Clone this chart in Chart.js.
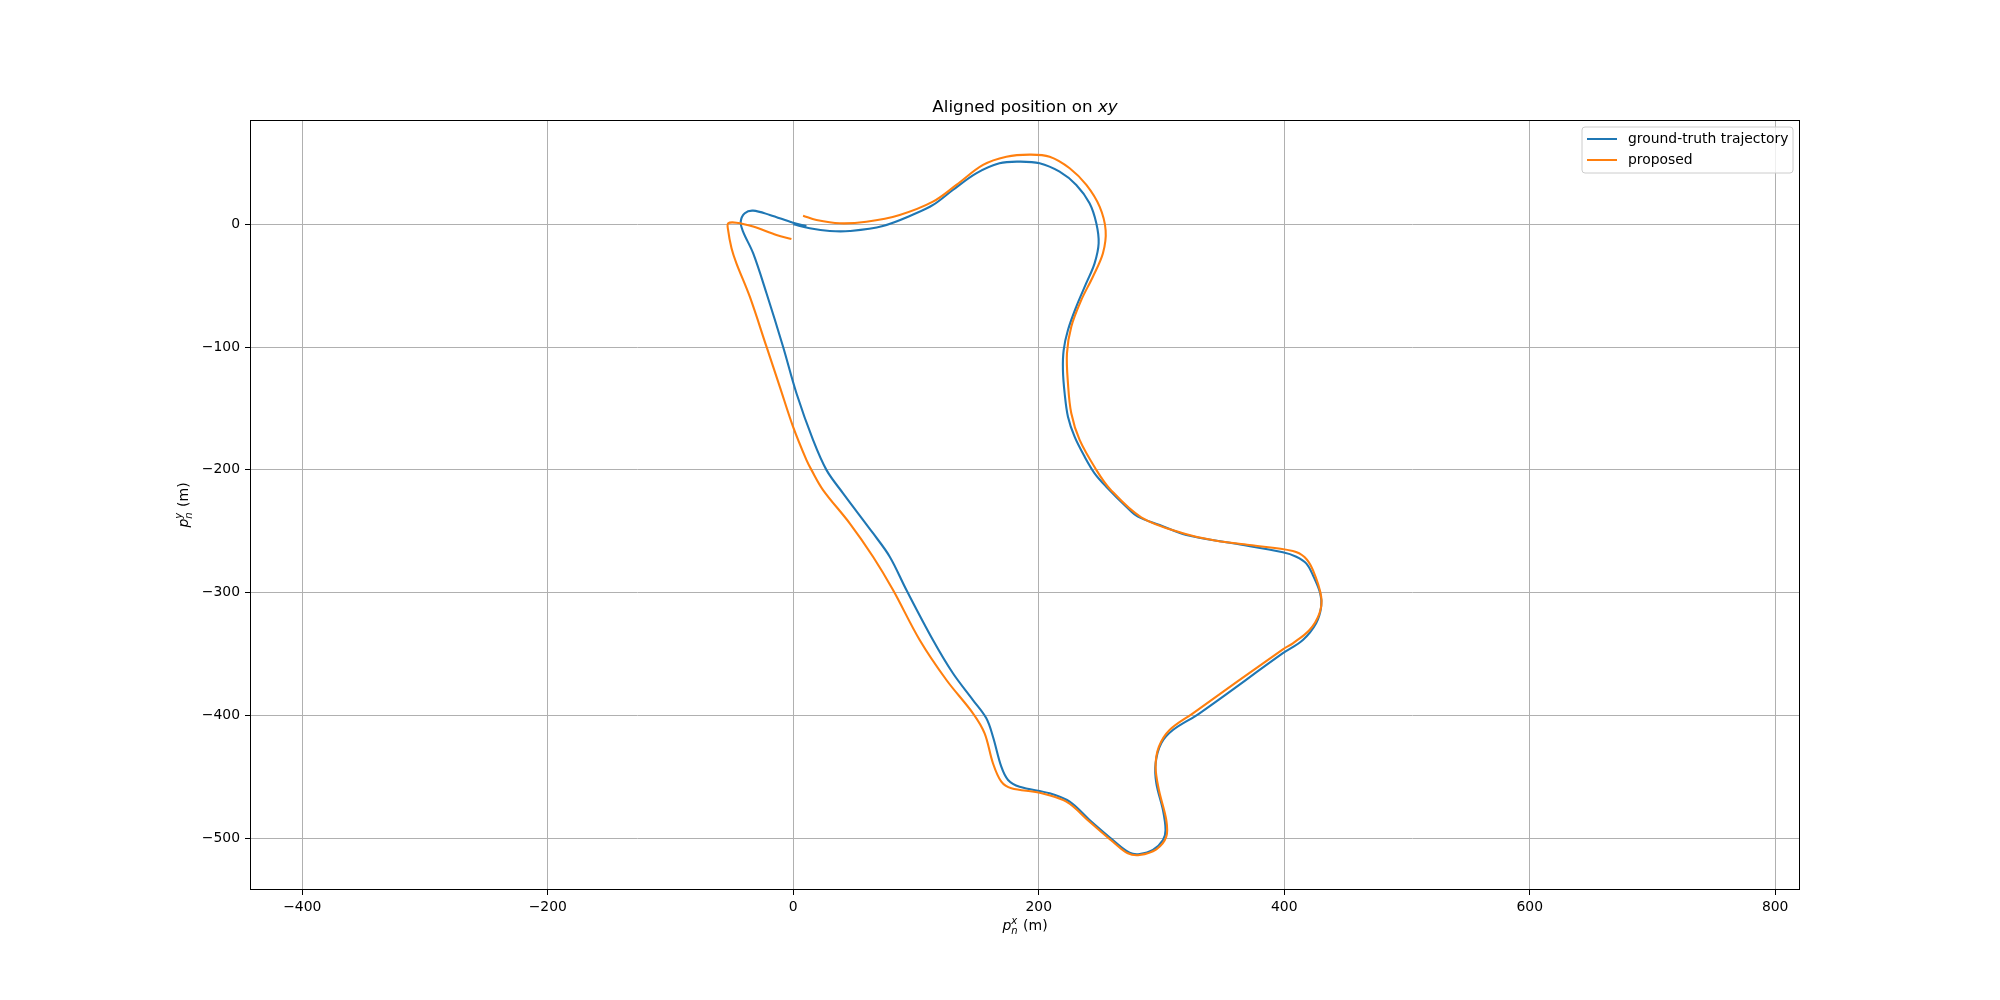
<!DOCTYPE html>
<html>
<head>
<meta charset="utf-8">
<script src="https://cdn.jsdelivr.net/npm/chart.js@4.4.1/dist/chart.umd.min.js"></script>
<style>
  html, body { margin: 0; padding: 0; background: #ffffff; }
  #wrap { width: 2000px; height: 1000px; position: relative; }
</style>
</head>
<body>
<div id="wrap"><canvas id="c"></canvas></div>
<script>
// ---- data ----
const titleMain = "Aligned position on ";
const titleItalic = "xy";
const seriesLabels = ["ground-truth trajectory", "proposed"];
const seriesColors = ["#1f77b4", "#ff7f0e"];
const axisSup = ["x", "y"];

const gtX = [0, 13.4, 29.7, 46, 73, 100, 113.9, 130, 149, 168,
  184, 200.7, 217, 230.6, 241.4, 246.9, 248.8, 245.5, 238.7, 230.6,
  223.8, 220.3, 219.7, 221.1, 223.8, 229.2, 237.4, 245.5, 255, 271.3,
  280.8, 298.5, 320.2, 358.2, 398.9, 409.8, 417.9, 423.3, 429.3, 430.1,
  426, 415.2, 398.9, 331, 309.3, 299.8, 295.2, 295.8, 301.2, 303.3,
  301.2, 293, 282.2, 274, 260.4, 241.4, 225.2, 208.9, 184.4, 175,
  169.5, 162.7, 157.3, 146.4, 130.1, 113.8, 92.2, 78.6, 65, 40.6,
  27, 16.1, 2.6, -8.3, -21.8, -32.7, -40.9, -42.8, -39.5,
  -32.7, -19.1, -0.2, 10.7];
const gtY = [0, -3.3, -5.5, -5.5, -1.4, 8.9, 15.7, 27.9, 41.5, 49.7,
  51, 49.7, 42.8, 32, 17.1, 0.8, -15.5, -31.8, -48, -67.1,
  -86.1, -102.4, -118.6, -137.6, -156.7, -173, -189.3, -202.8, -213.7, -230,
  -238.1, -244.9, -253, -259.8, -267.1, -270.7, -276.1, -285.6, -300.5, -311.4,
  -324.9, -338.5, -349.3, -398.2, -411.8, -422.6, -438.9, -455.2, -477, -493.2,
  -501.4, -509.5, -512.8, -511.7, -501.4, -485.1, -470.2, -463.4, -458, -452.5,
  -441.7, -417.3, -402.3, -387.4, -365.6, -338.5, -297.8, -270.7, -251.6, -219.1,
  -200, -175.6, -137.6, -99.7, -56.2, -23.6, -6, 2.1, 9,
  11.1, 7.6, 1.3, -1.4];

const propX = [8, 18.9, 37.9, 59.6, 86.7, 113.8, 132.9, 154.6, 173.6, 192.6,
  208.9, 225.2, 238.8, 249.6, 254.5, 252.3, 244.1, 234.7, 226.5, 223,
  223.8, 226.5, 233.3, 246.9, 258, 283.5, 317.4, 344.6, 371.7, 407,
  416.5, 423.3, 430.1, 428.7, 420.6, 407, 398.9, 325.6, 306.6, 297.9,
  295.2, 297.9, 303.9, 303.9, 295.8, 282.2, 272.6, 260.4, 241.4, 222.5,
  200.7, 177.7, 169.5, 162.7, 155.9, 146.4, 124.8, 103, 81.3, 65,
  46, 24.3, 14.8, 10.7, -0.2, -11, -21.8, -35.4, -46.3, -50.3,
  -53.1, -53, -46.3, -32.7, -13.7, -1.5];
const propY = [7, 3.5, 0.8, 2.1, 7.6, 18.4, 32, 48.3, 55, 56.7,
  55, 45.6, 32, 14.3, -5, -23.6, -42.7, -61.6, -83.4, -105,
  -129.5, -153.9, -175.6, -200, -215.5, -238.6, -251.6, -257.7, -261.2, -266,
  -271, -281.5, -303.3, -316.8, -330.4, -341.2, -346.1, -398.2, -411.8, -425.4,
  -441.7, -460.7, -485.1, -498.7, -509, -513.6, -512.2, -502.8, -486.5, -470.2,
  -462.9, -459.3, -453.9, -438.9, -414.5, -398.2, -371.1, -338.5, -297.8, -270.7,
  -243.5, -216.4, -200, -191.9, -164.8, -132.2, -99.7, -59, -31.8, -19.5,
  -4.6, 0.8, 1.3, -1.9, -8.7, -12];

const xTicks = [-400, -200, 0, 200, 400, 600, 800];
const yTicks = [-500, -400, -300, -200, -100, 0];
const xRange = [-442.6, 820.2];
const yRange = [-542.1, 84.9];

// ---- build ----
const FONT = "'DejaVu Sans', sans-serif";
const toPts = (xs, ys) => xs.map((x, i) => ({ x: x, y: ys[i] }));
const fmt = v => (v < 0 ? "\u2212" + Math.abs(v) : String(v));

function drawMathLabel(ctx, x, y, rotate, sup) {
  // p_n^sup (m)
  const big = "italic 14px " + FONT;
  const small = "italic 10px " + FONT;
  const norm = "14px " + FONT;
  ctx.font = big; const wp = ctx.measureText("p").width;
  ctx.font = small; const wn = ctx.measureText("n").width; const wx = ctx.measureText(sup).width;
  ctx.font = norm; const wm = ctx.measureText(" (m)").width;
  const total = wp + Math.max(wn, wx) + 1 + wm;
  ctx.save();
  ctx.translate(x, y);
  if (rotate) ctx.rotate(-Math.PI / 2);
  ctx.fillStyle = "#000";
  ctx.textBaseline = "alphabetic";
  ctx.textAlign = "left";
  let cx = -total / 2;
  ctx.font = big; ctx.fillText("p", cx, 0); cx += wp;
  ctx.font = small; ctx.fillText("n", cx, 3.5); ctx.fillText(sup, cx, -6.5);
  cx += Math.max(wn, wx) + 1;
  ctx.font = norm; ctx.fillText(" (m)", cx, 0);
  ctx.restore();
}

const decor = {
  id: "decor",
  afterDraw(chart) {
    const ctx = chart.ctx;
    const a = chart.chartArea;
    // spines
    ctx.save();
    ctx.strokeStyle = "#000";
    ctx.lineWidth = 1;
    ctx.strokeRect(Math.round(a.left) + 0.5, Math.round(a.top) + 0.5,
      Math.round(a.right - a.left) - 1, Math.round(a.bottom - a.top) - 1);
    ctx.restore();

    // title
    ctx.save();
    ctx.fillStyle = "#000";
    ctx.textBaseline = "alphabetic";
    ctx.font = "16.7px " + FONT;
    const w1 = ctx.measureText(titleMain).width;
    ctx.font = "italic 16.7px " + FONT;
    const w2 = ctx.measureText(titleItalic).width;
    const cxT = (a.left + a.right) / 2;
    let tx = cxT - (w1 + w2) / 2;
    ctx.textAlign = "left";
    ctx.font = "16.7px " + FONT;
    ctx.fillText(titleMain, tx, 112);
    ctx.font = "italic 16.7px " + FONT;
    ctx.fillText(titleItalic, tx + w1, 112);
    ctx.restore();

    // axis labels
    drawMathLabel(ctx, (a.left + a.right) / 2, 930, false, axisSup[0]);
    drawMathLabel(ctx, 188, (a.top + a.bottom) / 2, true, axisSup[1]);

    // legend
    ctx.save();
    const lx = 1582, ly = 127, lw = 211, lh = 46, r = 3;
    ctx.beginPath();
    ctx.moveTo(lx + r, ly);
    ctx.arcTo(lx + lw, ly, lx + lw, ly + lh, r);
    ctx.arcTo(lx + lw, ly + lh, lx, ly + lh, r);
    ctx.arcTo(lx, ly + lh, lx, ly, r);
    ctx.arcTo(lx, ly, lx + lw, ly, r);
    ctx.closePath();
    ctx.fillStyle = "rgba(255,255,255,0.8)";
    ctx.fill();
    ctx.strokeStyle = "#cccccc";
    ctx.lineWidth = 1;
    ctx.stroke();
    const ds = chart.data.datasets;
    const rows = [139, 160];
    ds.slice().sort((p, q) => p.legendIndex - q.legendIndex).forEach((d, i) => {
      ctx.strokeStyle = d.borderColor;
      ctx.lineWidth = 2;
      ctx.beginPath();
      ctx.moveTo(1587, rows[i]);
      ctx.lineTo(1617, rows[i]);
      ctx.stroke();
      ctx.fillStyle = "#000";
      ctx.font = "13.9px " + FONT;
      ctx.textAlign = "left";
      ctx.textBaseline = "middle";
      ctx.fillText(d.label, 1628, rows[i] + 0.5);
    });
    ctx.restore();
  }
};

new Chart(document.getElementById("c"), {
  type: "scatter",
  data: {
    datasets: [
      {
        label: seriesLabels[0], legendIndex: 0,
        data: toPts(gtX, gtY),
        showLine: true, borderColor: seriesColors[0], backgroundColor: seriesColors[0],
        borderWidth: 2.1, pointRadius: 0, tension: 0.35, order: 1
      },
      {
        label: seriesLabels[1], legendIndex: 1,
        data: toPts(propX, propY),
        showLine: true, borderColor: seriesColors[1], backgroundColor: seriesColors[1],
        borderWidth: 2.1, pointRadius: 0, tension: 0.35, order: 0
      }
    ]
  },
  options: {
    responsive: true,
    maintainAspectRatio: false,
    animation: false,
    events: [],
    layout: { padding: { top: 120, right: 200, left: 0, bottom: 0 } },
    plugins: {
      legend: { display: false },
      title: { display: false },
      tooltip: { enabled: false }
    },
    scales: {
      x: {
        type: "linear",
        min: xRange[0], max: xRange[1],
        afterBuildTicks: s => { s.ticks = xTicks.map(v => ({ value: v })); },
        afterFit: s => { s.height = 110; },
        grid: { color: "#b0b0b0", lineWidth: 1, tickColor: "#000", tickLength: 5, drawTicks: true },
        border: { display: false },
        ticks: {
          autoSkip: false, maxRotation: 0, padding: 4, color: "#000",
          font: { family: FONT, size: 13.9 },
          callback: v => fmt(v)
        },
        title: { display: false }
      },
      y: {
        type: "linear",
        min: yRange[0], max: yRange[1],
        afterBuildTicks: s => { s.ticks = yTicks.map(v => ({ value: v })); },
        afterFit: s => { s.width = 250; },
        grid: { color: "#b0b0b0", lineWidth: 1, tickColor: "#000", tickLength: 5, drawTicks: true },
        border: { display: false },
        ticks: {
          autoSkip: false, padding: 5, color: "#000",
          font: { family: FONT, size: 13.9 },
          callback: v => fmt(v)
        },
        title: { display: false }
      }
    }
  },
  plugins: [decor]
});
</script>
</body>
</html>
